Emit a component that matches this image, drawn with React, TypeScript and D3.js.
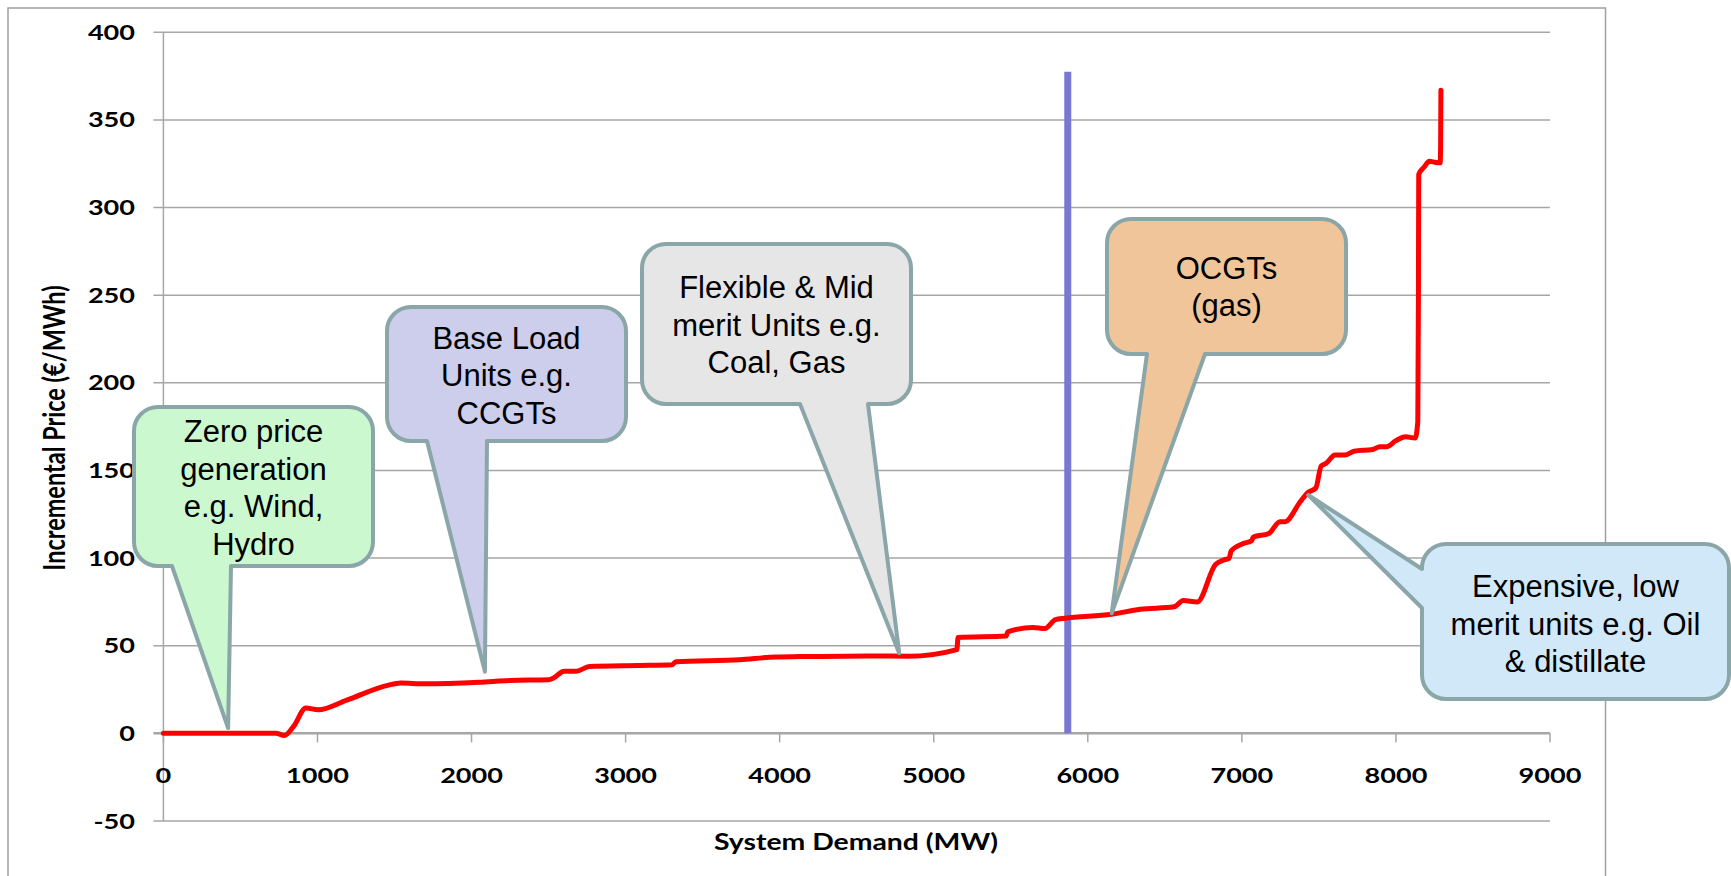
import React from 'react';
import * as d3 from 'd3';

// ---------- data ----------
const demandMW = [
  0, 730, 785, 845, 925, 1005, 1190, 1455, 1540, 1690, 2050, 2250, 2500, 2535, 2600, 2680, 2765,
  3080, 3300, 3326, 3740, 3975, 4130, 4575, 4835, 5150, 5158, 5470, 5480, 5645, 5720, 5790, 5850,
  6155, 6340, 6560, 6620, 6710, 6830, 6885, 6918, 6930, 7005, 7062, 7075, 7175, 7247, 7280, 7380,
  7430, 7480, 7515, 7546, 7605, 7668, 7728, 7849, 7895, 7940, 8000, 8061, 8125, 8142, 8146, 8148,
  8182, 8217, 8254, 8287, 8290, 8292,
];
const priceEurMWh = [
  0, 0, -1.2, 4, 14.5, 13.5, 19, 27.4, 28.7, 28.3, 29.2, 30.2, 30.6, 31.7, 35.5, 35.5, 38.1,
  38.7, 39.1, 40.8, 42, 43.6, 43.8, 44.2, 44, 47.8, 54.7, 55.5, 57.9, 60.4, 59.8, 64.9, 65.7,
  68, 70.8, 72.2, 75.8, 75, 96.5, 99, 100, 104, 108.2, 109.8, 112, 114, 120.8, 120.8, 132.3,
  137.5, 140, 152.6, 154, 158.8, 158.8, 161, 162, 163.6, 163.6, 167, 169.3, 168.5, 178, 250, 319,
  323, 326.4, 325.8, 325.5, 335, 367,
];

const xTickValues = [0, 1000, 2000, 3000, 4000, 5000, 6000, 7000, 8000, 9000];
const yTickValues = [-50, 0, 50, 100, 150, 200, 250, 300, 350, 400];

const marginalDemand = 5870;
const marginalTopPrice = 377.5;

const calloutTexts = [
  ['Zero price', 'generation', 'e.g. Wind,', 'Hydro'],
  ['Base Load', 'Units e.g.', 'CCGTs'],
  ['Flexible & Mid', 'merit Units e.g.', 'Coal, Gas'],
  ['OCGTs', '(gas)'],
  ['Expensive, low', 'merit units e.g. Oil', '& distillate'],
];
const calloutTipDemand = [420, 2087, 4776, 6155, 7431];
const calloutTipPrice = [3, 35.2, 45.7, 68.5, 136];

const xTitle = 'System Demand (MW)';
const yTitle = 'Incremental Price (€/MWh)';

// ---------- layout / style ----------
const W = 1731;
const H = 876;
const plot = { left: 163.4, right: 1550, top: 32.3, bottom: 821 };
const calloutLayout = [
  { box: [134, 407, 373, 566], base: [172, 231], side: 'bottom', fill: '#CCF8CF', firstBase: 441.7 },
  { box: [387, 307, 626, 441], base: [427, 487], side: 'bottom', fill: '#CDCDEC', firstBase: 348.5 },
  { box: [642, 244, 911, 404], base: [800, 868], side: 'bottom', fill: '#E6E6E6', firstBase: 297.7 },
  { box: [1107, 219, 1346, 354], base: [1147, 1205], side: 'bottom', fill: '#F1C59A', firstBase: 278.5 },
  { box: [1422, 544, 1729, 699], base: [569, 608], side: 'left', fill: '#D0E8F8', firstBase: 596.7 },
];
const lineGap = 37.8;
const calloutStroke = '#8BA6A8';
const gridColor = '#A6A6A6';
const axisFont = 'Lato, "Open Sans", sans-serif';
const stretch = 1.29;

function calloutPath(
  b: number[],
  base: number[],
  side: string,
  tip: [number, number],
  r: number
): string {
  const [x0, y0, x1, y1] = b;
  let p = `M${x0 + r},${y0} H${x1 - r} A${r},${r} 0 0 1 ${x1},${y0 + r} V${y1 - r} A${r},${r} 0 0 1 ${x1 - r},${y1}`;
  if (side === 'bottom') {
    p += ` H${base[1]} L${tip[0]},${tip[1]} L${base[0]},${y1}`;
  }
  p += ` H${x0 + r} A${r},${r} 0 0 1 ${x0},${y1 - r}`;
  if (side === 'left') {
    p += ` V${base[1]} L${tip[0]},${tip[1]} L${x0},${base[0]}`;
  }
  p += ` V${y0 + r} A${r},${r} 0 0 1 ${x0 + r},${y0} Z`;
  return p;
}

export default function App() {
  const x = d3.scaleLinear().domain([0, 9000]).range([plot.left, plot.right]);
  const y = d3.scaleLinear().domain([-50, 400]).range([plot.bottom, plot.top]);

  const pts: [number, number][] = demandMW.map((d, i) => [d, priceEurMWh[i]]);
  const line = d3
    .line<[number, number]>()
    .x((d) => x(d[0]))
    .y((d) => y(d[1]))
    .curve(d3.curveMonotoneX);

  return (
    <svg
      width={W}
      height={H}
      style={{ position: 'absolute', left: 0, top: 0, background: '#fff' }}
    >
      <rect x={0} y={0} width={W} height={H} fill="#fff" />
      {/* outer chart border */}
      <rect x={8} y={8} width={1597.5} height={900} fill="none" stroke="#A0A0A0" strokeWidth={1.5} />

      {/* gridlines */}
      {yTickValues.map((v) => (
        <line
          key={'g' + v}
          x1={plot.left - 10}
          x2={plot.right}
          y1={y(v)}
          y2={y(v)}
          stroke={gridColor}
          strokeWidth={v === 0 ? 2.5 : 1.5}
        />
      ))}
      {/* y axis */}
      <line x1={plot.left} x2={plot.left} y1={y(400)} y2={y(-50)} stroke={gridColor} strokeWidth={1.5} />
      {/* x ticks */}
      {xTickValues.map((v) => (
        <line key={'xt' + v} x1={x(v)} x2={x(v)} y1={y(0)} y2={y(0) + 9} stroke={gridColor} strokeWidth={1.5} />
      ))}

      {/* y tick labels */}
      {yTickValues.map((v) => (
        <text
          key={'yl' + v}
          transform={`translate(135,${y(v) + 7.5}) scale(${stretch},1)`}
          textAnchor="end"
          fontFamily={axisFont}
          fontWeight={700}
          fontSize={21}
          fill="#000"
        >
          {v}
        </text>
      ))}
      {/* x tick labels */}
      {xTickValues.map((v) => (
        <text
          key={'xl' + v}
          transform={`translate(${x(v)},783) scale(${stretch},1)`}
          textAnchor="middle"
          fontFamily={axisFont}
          fontWeight={700}
          fontSize={21}
          fill="#000"
        >
          {v}
        </text>
      ))}

      {/* axis titles */}
      <text
        transform={`translate(856,850) scale(${stretch},1)`}
        textAnchor="middle"
        fontFamily={axisFont}
        fontWeight={700}
        fontSize={22}
        fill="#000"
      >
        {xTitle}
      </text>
      <text
        transform={`translate(54,428) scale(${stretch},1) rotate(-90)`}
        textAnchor="middle"
        dy="0.35em"
        fontFamily={axisFont}
        fontWeight={700}
        fontSize={23.5}
        fill="#000"
      >
        {yTitle}
      </text>

      {/* marginal demand line */}
      <line
        x1={x(marginalDemand)}
        x2={x(marginalDemand)}
        y1={y(marginalTopPrice)}
        y2={y(0)}
        stroke="#7878D2"
        strokeWidth={7}
      />

      {/* merit order curve */}
      <path
        d={line(pts) || ''}
        fill="none"
        stroke="#FF0000"
        strokeWidth={5}
        strokeLinejoin="round"
        strokeLinecap="round"
      />

      {/* callouts */}
      {calloutLayout.map((c, i) => {
        const tip: [number, number] = [x(calloutTipDemand[i]), y(calloutTipPrice[i])];
        const cx = (c.box[0] + c.box[2]) / 2;
        return (
          <g key={'c' + i}>
            <path
              d={calloutPath(c.box, c.base, c.side, tip, 24)}
              fill={c.fill}
              stroke={calloutStroke}
              strokeWidth={4}
              strokeLinejoin="round"
            />
            {calloutTexts[i].map((t, j) => (
              <text
                key={j}
                x={cx}
                y={c.firstBase + j * lineGap}
                textAnchor="middle"
                fontFamily='"Liberation Sans", Arial, sans-serif'
                fontSize={31}
                fill="#000"
              >
                {t}
              </text>
            ))}
          </g>
        );
      })}
    </svg>
  );
}
